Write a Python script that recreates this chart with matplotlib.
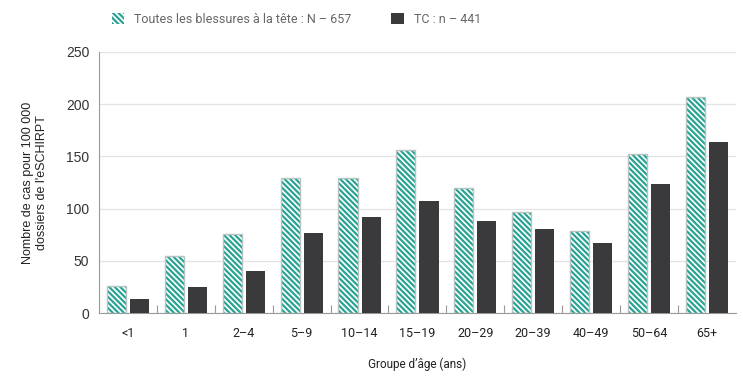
import numpy as np
import matplotlib
matplotlib.use('Agg')
import matplotlib.pyplot as plt
from matplotlib.patches import Patch

groupes = ['<1', '1', '2–4', '5–9', '10–14', '15–19', '20–29', '20–39', '40–49', '50–64', '65+']
toutes = [26, 55, 76, 129, 129, 156, 120, 97, 79, 152, 207]
tc = [13, 25, 40, 77, 92, 107, 88, 80, 67, 124, 164]

teal = '#2ba394'
sombre = '#3a3a3c'

plt.rcParams['hatch.linewidth'] = 1.6

fig = plt.figure(figsize=(7.43, 3.79), dpi=100)
ax = fig.add_axes([0.1333, 0.174, 0.857, 0.689])

x = np.arange(len(groupes))
w = 0.33
off = 0.2

# barres hachurées (hachures en teal, contour gris clair)
ax.bar(x - off, toutes, w, facecolor='white', edgecolor=teal, hatch='\\' * 6, linewidth=0, zorder=3)
ax.bar(x - off, toutes, w, facecolor='none', edgecolor='#b8c4c2', linewidth=1.0, zorder=4)
ax.bar(x + off, tc, w, color=sombre, linewidth=0, zorder=3)

ax.set_ylim(0, 250)
ax.set_yticks(range(0, 251, 50))
ax.set_xlim(-0.5, 10.5)
ax.set_xticks(x)
ax.set_xticklabels(groupes, fontfamily='Roboto', fontsize=9, color='#222222')
ax.set_xticks(np.arange(len(groupes) - 1) + 0.5, minor=True)
ax.tick_params(axis='x', which='major', length=0, pad=10)
ax.tick_params(axis='x', which='minor', direction='in', length=6, color='#999999', width=0.8)
ax.tick_params(axis='y', length=0, labelsize=10, labelcolor='#333333', pad=7)
for lab in ax.get_yticklabels():
    lab.set_fontfamily('Liberation Sans')

ax.grid(axis='y', color='#e3e3e3', linewidth=0.9, zorder=0)
ax.set_axisbelow(True)
for s in ['top', 'right']:
    ax.spines[s].set_visible(False)
ax.spines['left'].set_color('#999999')
ax.spines['bottom'].set_color('#999999')
ax.spines['left'].set_linewidth(0.8)
ax.spines['bottom'].set_linewidth(0.8)

ax.set_xlabel('Groupe d’âge (ans)', fontfamily='Roboto', fontsize=8.5, color='#222222', labelpad=13)
ax.set_ylabel("Nombre de cas pour 100 000\ndossiers de l'eSCHIRPT", fontfamily='Liberation Sans',
              fontsize=9, color='#222222', labelpad=13)

handles = [Patch(facecolor='white', edgecolor=teal, hatch='\\' * 6, linewidth=0),
           Patch(facecolor=sombre, linewidth=0)]
labels = ['Toutes les blessures à la tête : N – 657', 'TC : n – 441']
fig.legend(handles, labels, loc='upper left', bbox_to_anchor=(0.135, 0.995), ncol=2, frameon=False,
           prop={'family': 'Roboto', 'size': 9}, labelcolor='#666666', handlelength=1.0,
           handleheight=1.0, columnspacing=3.2, handletextpad=0.8)

fig.savefig('out.png', dpi=100)
